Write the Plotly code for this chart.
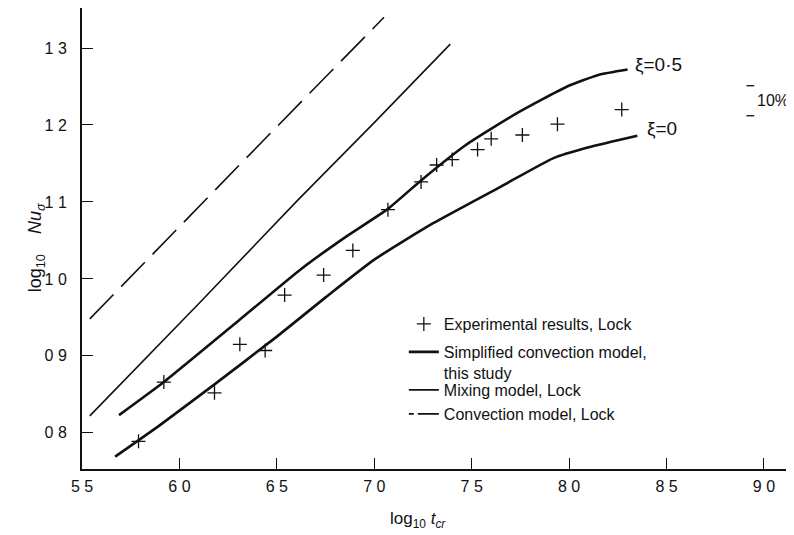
import plotly.graph_objects as go

# ---- data ----
exp_x = [5.79, 5.92, 6.18, 6.31, 6.44, 6.54, 6.74, 6.89, 7.07, 7.24, 7.32, 7.40, 7.53, 7.60, 7.76, 7.94, 8.27]
exp_y = [0.789, 0.866, 0.852, 0.915, 0.907, 0.979, 1.005, 1.037, 1.090, 1.126, 1.148, 1.155, 1.168, 1.182, 1.187, 1.201, 1.220]

xi05_x = [5.69, 5.92, 6.30, 6.62, 6.85, 7.07, 7.24, 7.47, 7.73, 7.99, 8.15, 8.30]
xi05_y = [0.823, 0.866, 0.945, 1.012, 1.054, 1.091, 1.128, 1.174, 1.215, 1.250, 1.265, 1.272]

xi0_x = [5.67, 5.90, 6.18, 6.50, 6.75, 7.00, 7.30, 7.65, 7.92, 8.10, 8.35]
xi0_y = [0.769, 0.810, 0.863, 0.925, 0.976, 1.025, 1.072, 1.120, 1.157, 1.171, 1.186]

mix_x = [5.54, 6.10, 6.61, 7.00, 7.39]
mix_y = [0.822, 0.968, 1.103, 1.203, 1.305]

conv_x = [5.54, 6.30, 7.05]
conv_y = [0.948, 1.146, 1.340]

x_tickvals = [5.5, 6.0, 6.5, 7.0, 7.5, 8.0, 8.5, 9.0]
x_ticktext = ["5 5", "6 0", "6 5", "7 0", "7 5", "8 0", "8 5", "9 0"]
y_tickvals = [0.8, 0.9, 1.0, 1.1, 1.2, 1.3]
y_ticktext = ["0 8", "0 9", "1 0", "1 1", "1 2", "1 3"]

FONT = "Liberation Sans, Arial, sans-serif"
INK = "#111111"

fig = go.Figure()

fig.add_trace(go.Scatter(
    x=exp_x, y=exp_y, mode="markers", name="Experimental results, Lock",
    marker=dict(symbol="cross-thin", size=10, line=dict(width=1.3, color=INK), color=INK),
    legend="legend"))
fig.add_trace(go.Scatter(
    x=xi05_x, y=xi05_y, mode="lines", name="Simplified convection model,<br>this study",
    line=dict(color=INK, width=2.6, shape="spline", smoothing=0.5), legend="legend2"))
fig.add_trace(go.Scatter(
    x=xi0_x, y=xi0_y, mode="lines", showlegend=False,
    line=dict(color=INK, width=2.6, shape="spline", smoothing=0.5)))
fig.add_trace(go.Scatter(
    x=mix_x, y=mix_y, mode="lines", name="Mixing model, Lock",
    line=dict(color=INK, width=1.6), legend="legend3"))
fig.add_trace(go.Scatter(
    x=conv_x, y=conv_y, mode="lines", showlegend=False,
    line=dict(color=INK, width=1.6, dash="34px,11px")))
# legend key for the dashed model (short dash + long dash, as in the reference key)
fig.add_trace(go.Scatter(
    x=[None], y=[None], mode="lines", name="Convection model, Lock",
    line=dict(color=INK, width=1.6, dash="5px,4px,40px"), legend="legend4"))

annotations = [
    dict(x=8.33, y=1.278, xref="x", yref="y", text="ξ=0·5", showarrow=False,
         xanchor="left", yanchor="middle", font=dict(size=19, color=INK, family=FONT)),
    dict(x=8.39, y=1.196, xref="x", yref="y", text="ξ=0", showarrow=False,
         xanchor="left", yanchor="middle", font=dict(size=19, color=INK, family=FONT)),
    dict(x=8.955, y=1.232, xref="x", yref="y", text="10%", showarrow=False,
         xanchor="left", yanchor="middle", font=dict(size=16, color=INK, family=FONT)),
    dict(x=-0.0646, y=0.479, xref="paper", yref="paper",
         text="log<sub>10</sub>    <i>Nu<sub>σ</sub></i>",
         textangle=-90, showarrow=False, xanchor="center", yanchor="middle",
         font=dict(size=18, color=INK, family=FONT)),
    dict(x=0.472, y=-0.1106, xref="paper", yref="paper", text="log<sub>10</sub> <i>t<sub>cr</sub></i>",
         showarrow=False, xanchor="center", yanchor="middle",
         font=dict(size=17, color=INK, family=FONT)),
]

shapes = [
    dict(type="line", xref="x", yref="y", x0=8.91, x1=8.95, y0=1.251, y1=1.251,
         line=dict(color=INK, width=1.3)),
    dict(type="line", xref="x", yref="y", x0=8.91, x1=8.95, y0=1.212, y1=1.212,
         line=dict(color=INK, width=1.3)),
]

leg_common = dict(xanchor="left", yanchor="top", bgcolor="rgba(0,0,0,0)",
                  font=dict(size=16, family=FONT, color=INK), valign="top",
                  itemwidth=30, borderwidth=0)
LX = 0.4520

# the page body has an 8px default margin: the figure is sized to fit the window
fig.update_layout(
    width=786, height=527,
    margin=dict(l=74, r=0, t=0, b=66),
    paper_bgcolor="white", plot_bgcolor="white",
    font=dict(family=FONT, size=14, color=INK),
    showlegend=True,
    legend=dict(x=LX, y=0.3514, **leg_common),
    legend2=dict(x=LX, y=0.2907, **leg_common),
    legend3=dict(x=LX, y=0.2082, **leg_common),
    legend4=dict(x=LX, y=0.1562, **leg_common),
    annotations=annotations,
    shapes=shapes,
)

fig.update_xaxes(range=[5.5, 9.154], tickvals=x_tickvals, ticktext=x_ticktext,
                 showgrid=False, zeroline=False, showline=True, linecolor=INK, linewidth=1.6,
                 ticks="inside", ticklen=11, tickwidth=1.2, tickcolor=INK,
                 tickfont=dict(size=16, family=FONT, color=INK), ticklabelstandoff=2)
fig.update_yaxes(range=[0.753, 1.352], tickvals=y_tickvals, ticktext=y_ticktext,
                 showgrid=False, zeroline=False, showline=True, linecolor=INK, linewidth=2,
                 ticks="inside", ticklen=11, tickwidth=1.2, tickcolor=INK,
                 tickfont=dict(size=16, family=FONT, color=INK), ticklabelstandoff=10)

fig.write_html("out.html")
